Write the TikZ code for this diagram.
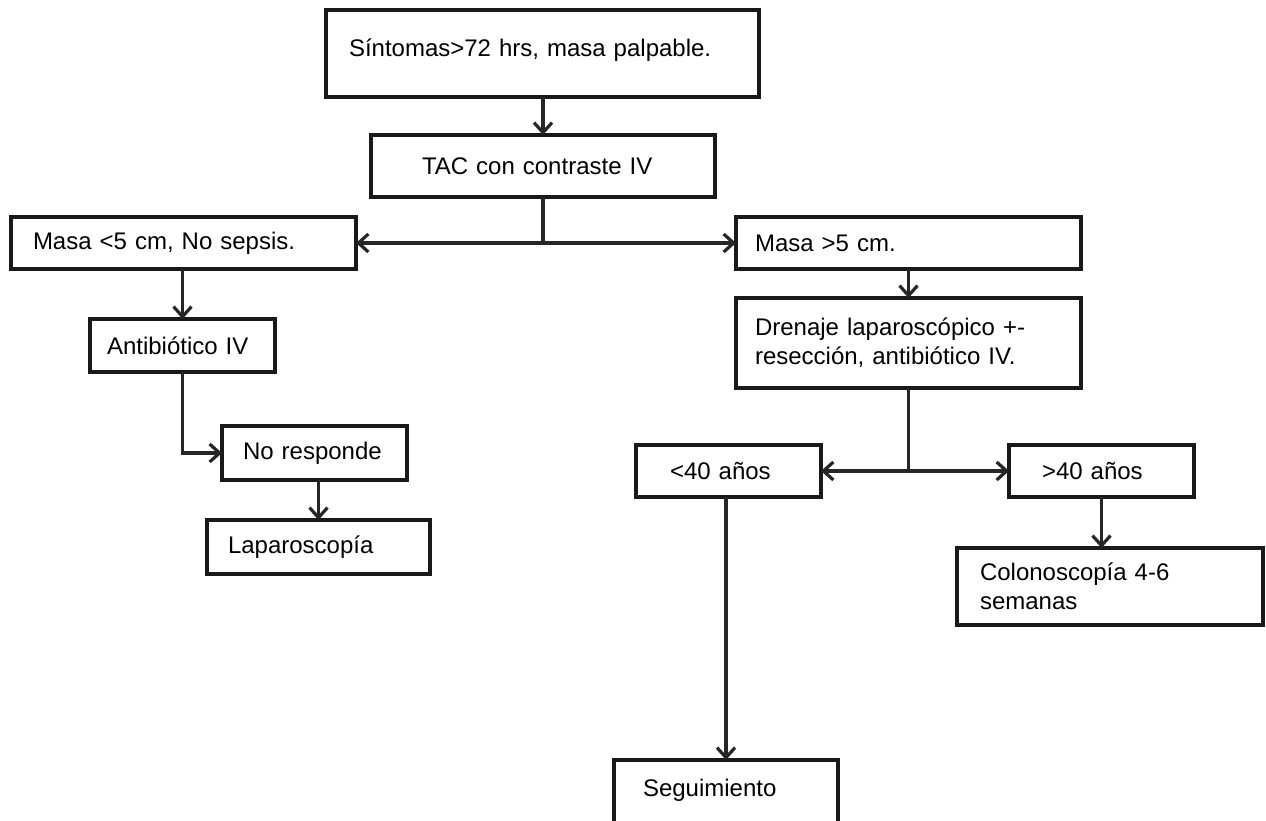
\documentclass[tikz,border=0pt]{standalone}
\usepackage{fontspec}
\setmainfont{Liberation Sans}
\usepackage{tikz}
\usetikzlibrary{arrows.meta, positioning, calc}
\tikzstyle{caja} = [rectangle, draw=black!90, line width=3.6pt, outer sep=0pt, align=left, fill=white, font=\fontsize{24}{29}\selectfont]
\tikzstyle{linea} = [line width=3.2pt, draw=black!85]
\tikzstyle{flecha} = [linea, -{Straight Barb[length=10pt, width=18pt]}]

\begin{document}
\begin{tikzpicture}[x=1pt, y=1pt, node distance=30pt]
    \useasboundingbox (0,0) rectangle (1266,-821);
    \node (sint) [caja, minimum height=87pt, text width=387pt, inner xsep=23pt, text height=18pt, text depth=12pt] at (542.5,-53.5) {S\'intomas>72 hrs, masa palpable.};
    \node (tac) [caja, below=38pt of sint, xshift=0.5pt, minimum height=62pt, text width=242pt, inner xsep=51pt] {TAC con contraste IV};
    \node (menor5) [caja, below=20pt of tac, xshift=-359.5pt, minimum height=52pt, text width=301pt, inner xsep=22pt] {Masa <5 cm, No sepsis.};
    \node (mayor5) [caja, below=20pt of tac, xshift=365.5pt, minimum height=52pt, text width=307pt, inner xsep=19pt] {Masa >5 cm.};
    \node (anti) [caja, below=50pt of menor5, xshift=-1pt, minimum height=53pt, text width=151pt, inner xsep=17pt] {Antibi\'otico IV};
    \node (nores) [caja, below=54pt of anti, xshift=132pt, minimum height=54pt, text width=143pt, inner xsep=21pt] {No responde};
    \node (lapa) [caja, below=40pt of nores, xshift=4pt, minimum height=54pt, text width=181pt, inner xsep=21pt] {Laparoscop\'ia};
    \node (dren) [caja, below=29pt of mayor5, minimum height=90pt, text width=307pt, inner xsep=19pt] {Drenaje laparosc\'opico +-\\resecci\'on, antibi\'otico IV.};
    \node (men40) [caja, below=57pt of dren, xshift=-180pt, minimum height=52pt, text width=117pt, inner xsep=34pt] {<40 a\~nos};
    \node (may40) [caja, below=57pt of dren, xshift=193pt, minimum height=52pt, text width=119pt, inner xsep=33pt] {>40 a\~nos};
    \node (colo) [caja, below=51pt of may40, xshift=8.5pt, minimum height=77pt, text width=260pt, inner xsep=23pt] {Colonoscop\'ia 4-6\\semanas};
    \node (segui) [caja, below=263pt of men40, xshift=-2.5pt, text width=166pt, inner xsep=29pt, inner ysep=8pt, text height=28pt, text depth=40pt] {Seguimiento};

    % flechas rectas
    \foreach \i/\j in {sint/tac, menor5/anti, nores/lapa, mayor5/dren, men40/segui} {
        \draw [flecha] (\j.north |- \i.south) -- (\j.north);
    }
    \draw [flecha] (may40.south) -- (may40.south |- colo.north);
    \draw [flecha] (anti.south) |- (nores.west);

    % bifurcaciones
    \draw [linea] (tac.south) -- (tac.south |- menor5.east) coordinate (j1);
    \draw [flecha] (j1) -- (menor5.east);
    \draw [flecha] (j1) -- (mayor5.west);
    \draw [linea] (dren.south) -- (dren.south |- men40.east) coordinate (j2);
    \draw [flecha] (j2) -- (men40.east);
    \draw [flecha] (j2) -- (may40.west);
\end{tikzpicture}
\end{document}
